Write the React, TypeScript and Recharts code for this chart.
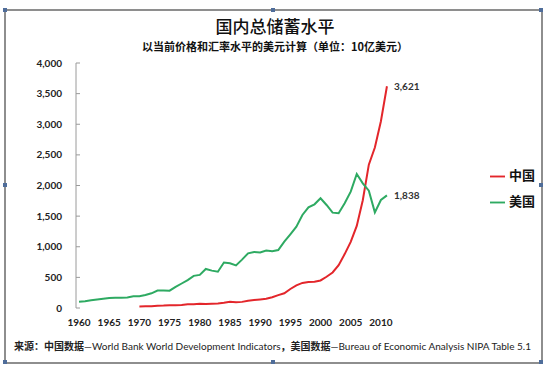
import React from 'react';
import { LineChart, Line, XAxis, YAxis, Legend } from 'recharts';

const years = [
  1960, 1961, 1962, 1963, 1964, 1965, 1966, 1967, 1968, 1969,
  1970, 1971, 1972, 1973, 1974, 1975, 1976, 1977, 1978, 1979,
  1980, 1981, 1982, 1983, 1984, 1985, 1986, 1987, 1988, 1989,
  1990, 1991, 1992, 1993, 1994, 1995, 1996, 1997, 1998, 1999,
  2000, 2001, 2002, 2003, 2004, 2005, 2006, 2007, 2008, 2009,
  2010, 2011,
];

const chinaSaving: (number | null)[] = [
  null, null, null, null, null, null, null, null, null, null,
  25, 27, 30, 38, 40, 45, 43, 48, 60, 62,
  68, 65, 70, 75, 85, 100, 95, 100, 120, 130,
  140, 150, 175, 210, 240, 310, 370, 410, 425, 430,
  450, 510, 580, 700, 880, 1080, 1340, 1760, 2340, 2620,
  3050, 3621,
];

const usSaving = [
  103, 112, 125, 138, 150, 162, 168, 168, 172, 190,
  192, 212, 240, 285, 285, 283, 345, 400, 455, 525,
  540, 638, 610, 593, 743, 730, 696, 790, 893, 915,
  908, 940, 926, 947, 1083, 1203, 1328, 1519, 1644, 1693,
  1791, 1682, 1557, 1546, 1709, 1900, 2188, 2036, 1916, 1562,
  1764, 1838,
];

const yTicks = [0, 500, 1000, 1500, 2000, 2500, 3000, 3500, 4000];
const xLabelTicks = [1960, 1965, 1970, 1975, 1980, 1985, 1990, 1995, 2000, 2005, 2010];
const xBoundaryTicks = [
  1959.5, 1960.5, 1961.5, 1962.5, 1963.5, 1964.5, 1965.5, 1966.5, 1967.5, 1968.5,
  1969.5, 1970.5, 1971.5, 1972.5, 1973.5, 1974.5, 1975.5, 1976.5, 1977.5, 1978.5,
  1979.5, 1980.5, 1981.5, 1982.5, 1983.5, 1984.5, 1985.5, 1986.5, 1987.5, 1988.5,
  1989.5, 1990.5, 1991.5, 1992.5, 1993.5, 1994.5, 1995.5, 1996.5, 1997.5, 1998.5,
  1999.5, 2000.5, 2001.5, 2002.5, 2003.5, 2004.5, 2005.5, 2006.5, 2007.5, 2008.5,
  2009.5, 2010.5, 2011.5, 2012.5,
];

const seriesNames = { china: '中国', us: '美国' };
const titleText = '国内总储蓄水平';
const subtitleText = '以当前价格和汇率水平的美元计算（单位：10亿美元）';

const data = years.map((y, i) => ({ year: y, china: chinaSaving[i], us: usSaving[i] }));

const RED = '#e3262b';
const GREEN = '#2eaa62';
const CJK = '"Noto Sans CJK SC", sans-serif';
const NUM = 'Lato, "Noto Sans", sans-serif';

const fmt = (v: number) => v.toLocaleString('en-US');

const makeEndLabel = (arr: (number | null)[]) => (props: any) => {
  const { x, y, index, value } = props;
  if (index !== arr.length - 1 || value == null) return null;
  return (
    <text x={x + 7} y={y} dy={4} fontSize={10} fontWeight={700} fill="#333" fontFamily={NUM}>
      {fmt(value)}
    </text>
  );
};

const handle = (left: number, top: number, key: string) => (
  <div
    key={key}
    style={{
      position: 'absolute', left: left - 2, top: top - 2, width: 4, height: 4,
      background: '#4f6d9a',
    }}
  />
);

export default function App() {
  return (
    <div style={{ position: 'absolute', left: 0, top: 0, width: 550, height: 370, background: '#fff' }}>
      <div
        style={{
          position: 'absolute', left: 4, top: 9, width: 535, height: 351,
          border: '2px solid #8e8e8e',
        }}
      />
      {handle(5, 10, 'a')}
      {handle(273, 10, 'b')}
      {handle(541, 10, 'c')}
      {handle(5, 185, 'd')}
      {handle(541, 185, 'e')}
      {handle(5, 362, 'f')}
      {handle(273, 362, 'g')}
      {handle(541, 362, 'h')}
      <div
        style={{
          position: 'absolute', left: 0, width: 550, top: 15, textAlign: 'center',
          fontFamily: CJK, fontSize: 17, fontWeight: 500, color: '#111', lineHeight: '22px',
        }}
      >
        {titleText}
      </div>
      <div
        style={{
          position: 'absolute', left: 0, width: 550, top: 38, textAlign: 'center',
          fontFamily: CJK, fontSize: 11, fontWeight: 700, color: '#111', lineHeight: '16px',
        }}
      >
        {subtitleText}
      </div>
      <div
        style={{
          position: 'absolute', left: 14, top: 339, whiteSpace: 'nowrap',
          fontSize: 10, color: '#222', lineHeight: '14px',
        }}
      >
        <span style={{ fontFamily: CJK, fontWeight: 700 }}>来源：中国数据</span>
        <span style={{ fontFamily: NUM }}>—World Bank World Development Indicators</span>
        <span style={{ fontFamily: CJK, fontWeight: 700 }}>，美国数据</span>
        <span style={{ fontFamily: NUM }}>—Bureau of Economic Analysis NIPA Table 5.1</span>
      </div>
      <div style={{ position: 'absolute', left: 0, top: 0 }}>
        <LineChart
          width={550}
          height={370}
          data={data}
          margin={{ top: 63, right: 94, bottom: 32, left: 16 }}
        >
          <XAxis
            xAxisId="b"
            dataKey="year"
            type="number"
            domain={[1959.5, 2012.5]}
            ticks={xBoundaryTicks}
            interval={0}
            height={0}
            tickSize={3}
            tickFormatter={() => ''}
            stroke="#9a9a9a"
            allowDataOverflow
          />
          <XAxis
            xAxisId="lbl"
            dataKey="year"
            type="number"
            domain={[1959.5, 2012.5]}
            ticks={xLabelTicks}
            interval={0}
            height={30}
            axisLine={false}
            tickLine={false}
            tickSize={0}
            tickMargin={11}
            tick={{ fontSize: 10, fontWeight: 700, fill: '#222', fontFamily: NUM }}
          />
          <YAxis
            width={60}
            domain={[0, 4000]}
            ticks={yTicks}
            interval={0}
            tickFormatter={fmt}
            tickSize={-4}
            tickMargin={18}
            stroke="#9a9a9a"
            tick={{ fontSize: 10, fontWeight: 700, fill: '#222', fontFamily: NUM }}
          />
          <Legend
            layout="vertical"
            align="right"
            verticalAlign="top"
            iconType="plainline"
            iconSize={15}
            wrapperStyle={{ left: 490, top: 162, width: 60, fontFamily: CJK, fontSize: 13, fontWeight: 700, lineHeight: '26px' }}
            formatter={(v: string) => <span style={{ color: '#111' }}>{v}</span>}
          />
          <Line
            xAxisId="b"
            type="linear"
            dataKey="china"
            name={seriesNames.china}
            stroke={RED}
            strokeWidth={2}
            dot={false}
            isAnimationActive={false}
            label={makeEndLabel(chinaSaving)}
          />
          <Line
            xAxisId="b"
            type="linear"
            dataKey="us"
            name={seriesNames.us}
            stroke={GREEN}
            strokeWidth={2}
            dot={false}
            isAnimationActive={false}
            label={makeEndLabel(usSaving)}
          />
        </LineChart>
      </div>
    </div>
  );
}
